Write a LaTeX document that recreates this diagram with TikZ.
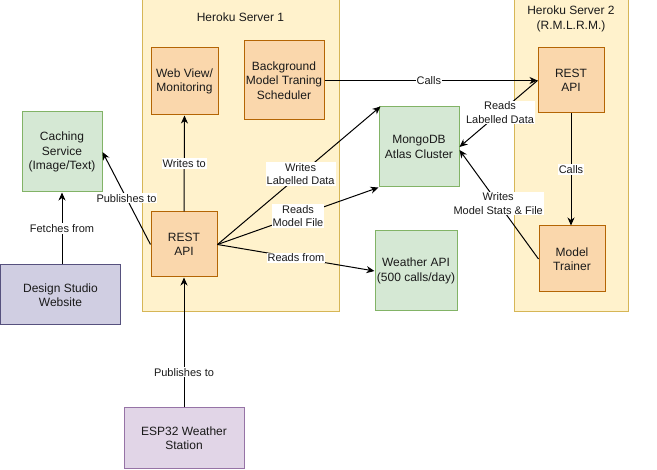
\documentclass[tikz,border=0pt]{standalone}
\usepackage{fontspec}
\setmainfont{Liberation Sans}
\usetikzlibrary{arrows.meta}
\definecolor{srvfill}{HTML}{FFF2CC}
\definecolor{srvline}{HTML}{D6B656}
\definecolor{orfill}{HTML}{FAD7AC}
\definecolor{orline}{HTML}{B46504}
\definecolor{grfill}{HTML}{D5E8D4}
\definecolor{grline}{HTML}{82B366}
\definecolor{pufill}{HTML}{E1D5E7}
\definecolor{puline}{HTML}{9673A6}
\definecolor{blfill}{HTML}{D0CEE2}
\definecolor{blline}{HTML}{56517E}
\definecolor{txt}{HTML}{1A1A1A}
\tikzset{
  box/.style={draw, line width=1pt, inner sep=0pt, align=center, text=txt,
    font=\fontsize{12}{14.4}\selectfont},
  srvbox/.style={box, fill=srvfill, draw=srvline},
  orbox/.style={box, fill=orfill, draw=orline},
  grbox/.style={box, fill=grfill, draw=grline},
  pubox/.style={box, fill=pufill, draw=puline},
  blbox/.style={box, fill=blfill, draw=blline},
  conn/.style={draw=black, line width=1pt, -{Stealth[length=8pt,width=7pt,inset=2.5pt]}},
  lbl/.style={fill=white, inner sep=1pt, align=center, text=txt,
    font=\fontsize{11}{13.5}\selectfont},
  plain/.style={inner sep=0pt, align=center, text=txt, font=\fontsize{12}{15}\selectfont}
}
\begin{document}
\begin{tikzpicture}[x=1pt,y=-1pt]
\useasboundingbox[fill=white] (0,0) rectangle (657,470);
% servers
\node[srvbox, minimum width=197pt, minimum height=313pt] (srv1) at (240.5,155) {};
\node[srvbox, minimum width=114pt, minimum height=313pt] (srv2) at (571,155) {};
\node[plain] (srv1t) at (240.5,17) {Heroku Server 1};
\node[plain] (srv2t) at (571,18.5) {Heroku Server 2\\(R.M.L.R.M.)};
% boxes
\node[orbox, minimum width=67pt, minimum height=67pt] (web) at (184.5,81.5) {Web View/\\Monitoring};
\node[orbox, minimum width=80pt, minimum height=79pt] (bg) at (284,80.5) {Background\\Model Traning\\Scheduler};
\node[grbox, minimum width=80pt, minimum height=80pt] (cache) at (62,152) {Caching\\Service\\(Image/Text)};
\node[orbox, minimum width=66pt, minimum height=65pt] (rest1) at (184,244.5) {REST\\API};
\node[blbox, minimum width=120pt, minimum height=60pt] (design) at (60.5,295) {Design Studio\\Website};
\node[pubox, minimum width=120pt, minimum height=61pt] (esp) at (184,438.5) {ESP32 Weather\\Station};
\node[grbox, minimum width=80pt, minimum height=80pt] (mongo) at (419,147) {MongoDB\\Atlas Cluster};
\node[grbox, minimum width=82pt, minimum height=80pt] (weather) at (416,271) {Weather API\\(500 calls/day)};
\node[orbox, minimum width=66pt, minimum height=65pt] (rest2) at (571,80.5) {REST\\API};
\node[orbox, minimum width=66pt, minimum height=66pt] (trainer) at (572,259) {Model\\Trainer};
% connectors
\draw[conn] (design.north -| cache.south) -- node[lbl] (l1) {Fetches from} (cache.south);
\draw[conn] (rest1.west) -- node[lbl, pos=0.5] (l2) {Publishes to} (cache.east);
\draw[conn] (rest1.north) -- node[lbl] (l3) {Writes to} (web.south);
\draw[conn] (esp.north) -- node[lbl, pos=0.27] (l4) {Publishes to} (rest1.south);
\draw[conn] (rest1.east) -- node[lbl, pos=0.51] (l5) {Writes\\Labelled Data} ([xshift=2pt]mongo.north west);
\draw[conn] (rest1.east) -- node[lbl, pos=0.5] (l6) {Reads\\Model File} (mongo.south west);
\draw[conn] (rest1.east) -- node[lbl, pos=0.5] (l7) {Reads from} (weather.west);
\draw[conn] (bg.east) -- node[lbl, pos=0.49] (l8) {Calls} (rest2.west);
\draw[conn] (rest2.west) -- node[lbl, pos=0.48] (l9) {Reads\\Labelled Data} (mongo.east);
\draw[conn] (rest2.south) -- node[lbl] (l10) {Calls} (rest2.south |- trainer.north);
\draw[conn] (trainer.west) -- node[lbl, pos=0.51] (l11) {Writes\\Model Stats \& File} ([yshift=-3pt]mongo.east);
\end{tikzpicture}
\end{document}
